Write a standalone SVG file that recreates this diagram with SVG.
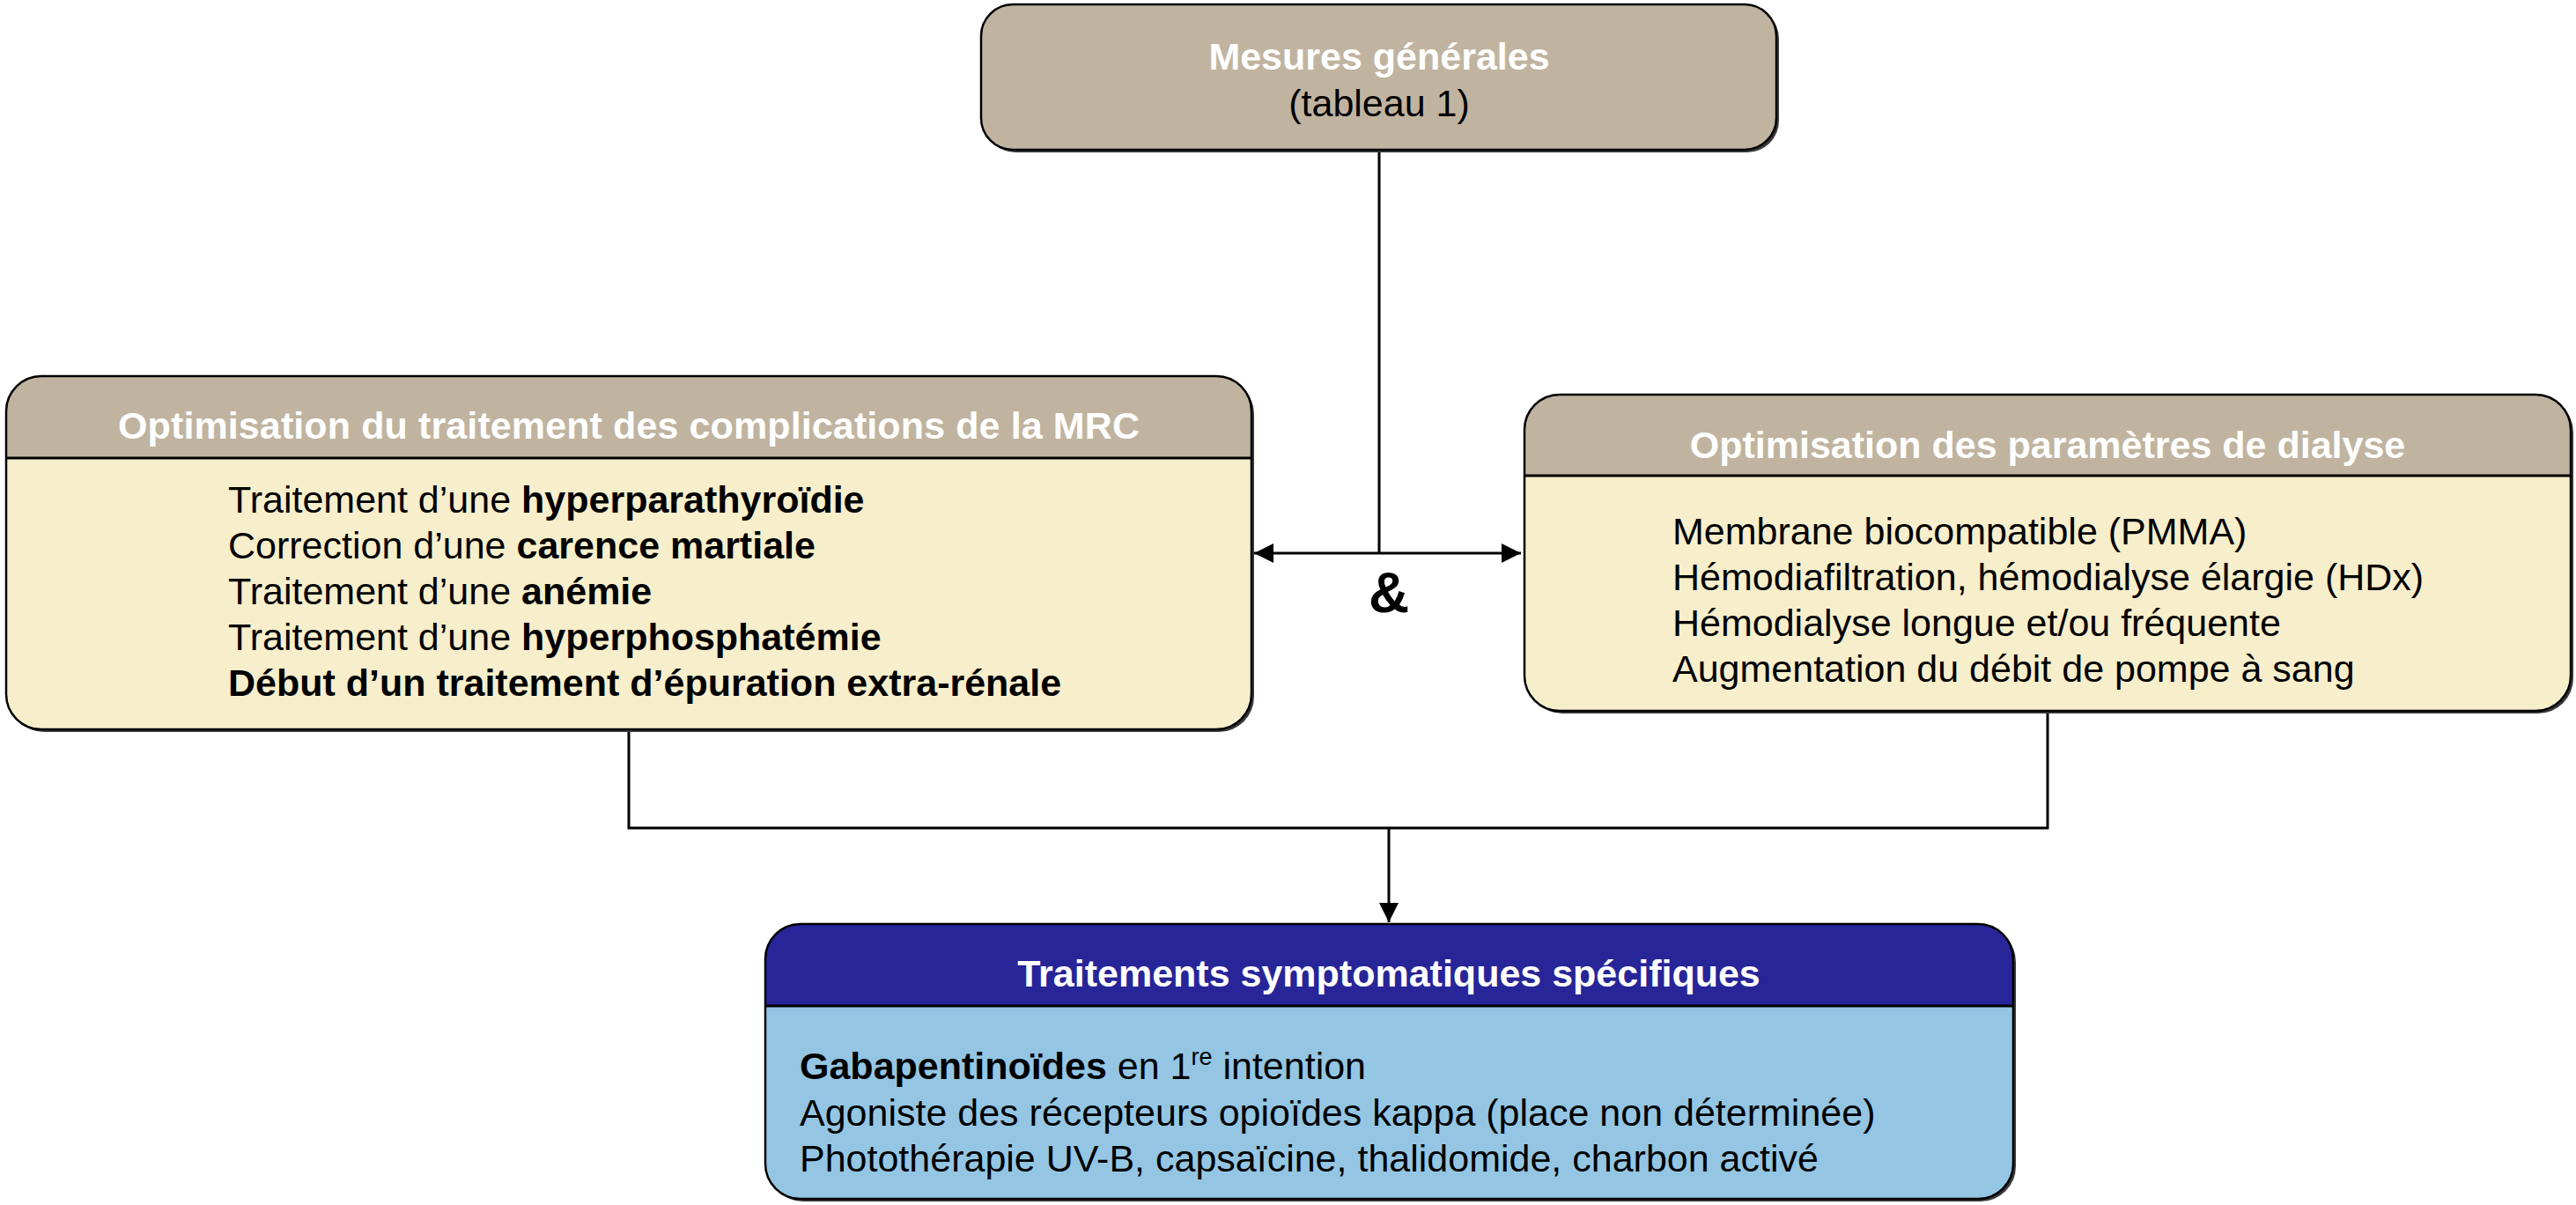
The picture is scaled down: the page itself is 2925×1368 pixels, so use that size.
<svg xmlns="http://www.w3.org/2000/svg" width="2925" height="1368" viewBox="0 0 2925 1368">
<style>
text{font-family:"Liberation Sans",Arial,sans-serif;font-size:43px;fill:#000}
.t{font-weight:bold;fill:#fff}
.b{font-weight:bold}
.c{text-anchor:middle}
.amp{font-size:64px;font-weight:bold}
.sup{font-size:27px}
.edge{stroke:#000;stroke-width:3;fill:none}
.shadow{fill:#3a3a3a}
.outline{fill:none;stroke:#000;stroke-width:2.5}
.sep{stroke:#000;stroke-width:3}
</style>
<defs>
<marker id="ah" markerUnits="userSpaceOnUse" markerWidth="24" markerHeight="24" viewBox="0 0 24 24" refX="22" refY="12" orient="auto-start-reverse">
<path d="M0,1 L22,12 L0,23 Z" fill="#000"/>
</marker>
</defs>
<rect width="2925" height="1368" fill="#fff"/>

<g id="connectors">
<line class="edge" x1="1566" y1="170" x2="1566" y2="628"/>
<line class="edge" x1="1424" y1="628" x2="1727" y2="628" marker-start="url(#ah)" marker-end="url(#ah)"/>
<polyline class="edge" points="714,828 714,940 2325,940 2325,807"/>
<line class="edge" x1="1577" y1="940" x2="1577" y2="1047" marker-end="url(#ah)"/>
<text class="amp c" x="1577" y="695">&amp;</text>
</g>

<g id="node-mesures">
<rect class="shadow" x="1117" y="8" width="903" height="165" rx="36"/>
<rect x="1114" y="5" width="903" height="165" rx="36" fill="#C0B4A0" stroke="#000" stroke-width="2.5"/>
<text class="t c" x="1566" y="79">Mesures générales</text>
<text class="c" x="1566" y="132">(tableau 1)</text>
</g>

<g id="node-mrc">
<rect class="shadow" x="10" y="430" width="1414" height="401" rx="40"/>
<rect x="7" y="427" width="1414" height="401" rx="40" fill="#F7EECB"/>
<path d="M7,520 V467 A40,40 0 0 1 47,427 H1381 A40,40 0 0 1 1421,467 V520 Z" fill="#C0B4A0"/>
<line class="sep" x1="7" y1="520" x2="1421" y2="520"/>
<rect class="outline" x="7" y="427" width="1414" height="401" rx="40"/>
<text class="t c" x="714" y="498" textLength="1160" lengthAdjust="spacing">Optimisation du traitement des complications de la MRC</text>
<text x="259" y="582">Traitement d’une <tspan class="b">hyperparathyroïdie</tspan></text>
<text x="259" y="634">Correction d’une <tspan class="b">carence martiale</tspan></text>
<text x="259" y="686">Traitement d’une <tspan class="b">anémie</tspan></text>
<text x="259" y="738">Traitement d’une <tspan class="b">hyperphosphatémie</tspan></text>
<text class="b" x="259" y="790">Début d’un traitement d’épuration extra-rénale</text>
</g>

<g id="node-dialyse">
<rect class="shadow" x="1734" y="451" width="1188" height="359" rx="40"/>
<rect x="1731" y="448" width="1188" height="359" rx="40" fill="#F7EECB"/>
<path d="M1731,540 V488 A40,40 0 0 1 1771,448 H2879 A40,40 0 0 1 2919,488 V540 Z" fill="#C0B4A0"/>
<line class="sep" x1="1731" y1="540" x2="2919" y2="540"/>
<rect class="outline" x="1731" y="448" width="1188" height="359" rx="40"/>
<text class="t c" x="2325" y="520">Optimisation des paramètres de dialyse</text>
<text x="1899" y="618">Membrane biocompatible (PMMA)</text>
<text x="1899" y="670">Hémodiafiltration, hémodialyse élargie (HDx)</text>
<text x="1899" y="722">Hémodialyse longue et/ou fréquente</text>
<text x="1899" y="774">Augmentation du débit de pompe à sang</text>
</g>

<g id="node-symptomatiques">
<rect class="shadow" x="872" y="1052" width="1417" height="312" rx="40"/>
<rect x="869" y="1049" width="1417" height="312" rx="40" fill="#94C6E4"/>
<path d="M869,1142 V1089 A40,40 0 0 1 909,1049 H2246 A40,40 0 0 1 2286,1089 V1142 Z" fill="#272598"/>
<line class="sep" x1="869" y1="1142" x2="2286" y2="1142"/>
<rect class="outline" x="869" y="1049" width="1417" height="312" rx="40"/>
<text class="t c" x="1577" y="1120">Traitements symptomatiques spécifiques</text>
<text x="908" y="1225"><tspan class="b">Gabapentinoïdes</tspan> en 1<tspan class="sup" dy="-16">re</tspan><tspan dy="16"> intention</tspan></text>
<text x="908" y="1278">Agoniste des récepteurs opioïdes kappa (place non déterminée)</text>
<text x="908" y="1330">Photothérapie UV-B, capsaïcine, thalidomide, charbon activé</text>
</g>
</svg>
